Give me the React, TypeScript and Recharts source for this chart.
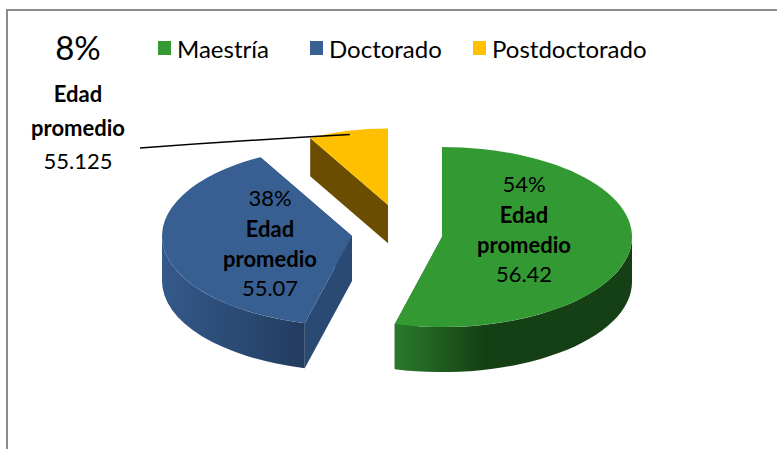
import React from "react";
import { PieChart, Pie, Cell, Legend, Tooltip } from "recharts";

const categories = ["Maestría", "Doctorado", "Postdoctorado"];
const percentages = [54, 38, 8];
const averageAges = ["56.42", "55.07", "55.125"];
const ageLabel = ["Edad", "promedio"];

const topColors = ["#339933", "#375f91", "#ffc000"];
const wallStops = [
  ["#2a7a2a", "#153f15"],
  ["#34598b", "#233c5f"],
  ["#6b4f00", "#5e4500"],
];
const faceColors = ["#1d5a1d", "#2b4a73", "#6a4d00"];
const sliceLayout = [
  { dx: 42, dy: 7, scale: 1, lx: 82, ly: -9, g: 0.38 },
  { dx: -48, dy: 6, scale: 1, lx: -82, ly: 6, g: 1 },
  { dx: -12, dy: -25, scale: 0.85, lx: -310, ly: -158, g: 1 },
];
const legendOffsets = [0, 152, 315];

const RX = 190;
const RY = 90;
const DEPTH = 45;
const FONT = "Lato, 'Noto Sans', sans-serif";

const data = categories.map((name, i) => ({ name, value: percentages[i], idx: i }));

const rad = (a: number) => (a * Math.PI) / 180;
const pt = (vx: number, vy: number, rx: number, ry: number, a: number): [number, number] => [
  vx + rx * Math.cos(rad(a)),
  vy - ry * Math.sin(rad(a)),
];
const f = (p: [number, number]) => `${p[0].toFixed(2)},${p[1].toFixed(2)}`;

function Slice3D(props: any) {
  const { cx, cy, startAngle, endAngle } = props;
  const i: number = props.idx ?? props.payload?.idx ?? 0;
  const L = sliceLayout[i];
  const rx = RX * L.scale;
  const ry = RY * L.scale;
  const d = DEPTH * L.scale;
  const vx = cx + L.dx;
  const vy = cy + L.dy;
  const hi = Math.max(startAngle, endAngle);
  const lo = Math.min(startAngle, endAngle);
  const P = (a: number) => pt(vx, vy, rx, ry, a);
  const ps = P(hi);
  const pe = P(lo);
  const large = hi - lo > 180 ? 1 : 0;
  const top = `M${vx},${vy} L${f(ps)} A${rx},${ry} 0 ${large} 1 ${f(pe)} Z`;
  const faces = [hi, lo].map((a) => {
    const p = P(a);
    return `M${vx},${vy} L${f(p)} L${f([p[0], p[1] + d])} L${vx},${vy + d} Z`;
  });
  const walls: { path: string; x1: number; x2: number }[] = [];
  for (const k of [-360, 0, 360]) {
    const a1 = Math.min(hi, k);
    const a2 = Math.max(lo, k - 180);
    if (a1 > a2) {
      const p1 = P(a1);
      const p2 = P(a2);
      walls.push({
        path: `M${f(p1)} A${rx},${ry} 0 0 1 ${f(p2)} L${f([p2[0], p2[1] + d])} A${rx},${ry} 0 0 0 ${f([p1[0], p1[1] + d])} Z`,
        x1: Math.min(p1[0], p2[0]),
        x2: Math.max(p1[0], p2[0]),
      });
    }
  }
  const gid = `wallgrad-${i}`;
  return (
    <g>
      {faces.map((p, j) => (
        <path key={`f${j}`} d={p} fill={faceColors[i]} />
      ))}
      {walls.map((w, j) => (
        <g key={`w${j}`}>
          <defs>
            <linearGradient id={`${gid}-${j}`} gradientUnits="userSpaceOnUse" x1={w.x1} y1={0} x2={w.x2} y2={0}>
              <stop offset="0" stopColor={wallStops[i][0]} />
              <stop offset={L.g} stopColor={wallStops[i][1]} />
              <stop offset="1" stopColor={wallStops[i][1]} />
            </linearGradient>
          </defs>
          <path d={w.path} fill={`url(#${gid}-${j})`} />
        </g>
      ))}
      <path d={top} fill={topColors[i]} />
    </g>
  );
}

function renderLabel(props: any) {
  const { cx, cy, index, midAngle } = props;
  const L = sliceLayout[index];
  const vx = cx + L.dx;
  const vy = cy + L.dy;
  const x = vx + L.lx;
  const y = vy + L.ly;
  const common = {
    textAnchor: "middle" as const,
    dominantBaseline: "central" as const,
    fill: "#000",
    fontFamily: FONT,
    fontSize: 22,
  };
  const pct = `${percentages[index]}%`;
  if (index === 2) {
    const end = pt(vx, vy, RX * L.scale * 0.95, RY * L.scale * 0.95, midAngle);
    const sx = x + 62;
    const sy = y + 101;
    return (
      <g>
        <path
          d={`M${sx},${sy} Q${(sx + end[0]) / 2},${(sy + end[1]) / 2 - 1} ${end[0]},${end[1]}`}
          stroke="#000"
          strokeWidth={1.5}
          fill="none"
        />
        <text {...common} x={x} y={y} fontSize={33}>{pct}</text>
        <text {...common} x={x} y={y + 46} fontWeight="bold">{ageLabel[0]}</text>
        <text {...common} x={x} y={y + 80} fontWeight="bold">{ageLabel[1]}</text>
        <text {...common} x={x} y={y + 113}>{averageAges[index]}</text>
      </g>
    );
  }
  return (
    <g>
      <text {...common} x={x} y={y - 45}>{pct}</text>
      <text {...common} x={x} y={y - 14} fontWeight="bold">{ageLabel[0]}</text>
      <text {...common} x={x} y={y + 16} fontWeight="bold">{ageLabel[1]}</text>
      <text {...common} x={x} y={y + 45}>{averageAges[index]}</text>
    </g>
  );
}

function renderLegend(props: any) {
  const payload: any[] = props.payload || [];
  const items = categories.map((c, i) => {
    const found = payload.find((p) => p.value === c);
    return { value: c, color: found?.color || topColors[i] };
  });
  return (
    <div style={{ position: "relative", width: 560, height: 28, fontFamily: FONT, fontSize: 24 }}>
      {items.map((it, i) => (
        <div
          key={`leg-${i}`}
          style={{
            position: "absolute",
            left: legendOffsets[i],
            top: 0,
            height: 28,
            display: "flex",
            alignItems: "center",
            whiteSpace: "nowrap",
          }}
        >
          <span style={{ display: "inline-block", width: 13, height: 14, background: it.color, marginRight: 6 }} />
          <span style={{ color: "#000" }}>{it.value}</span>
        </div>
      ))}
    </div>
  );
}

export default function App() {
  return (
    <div
      style={{
        position: "absolute",
        left: 0,
        top: 0,
        width: 777,
        height: 449,
        overflow: "hidden",
        background: "#fff",
      }}
    >
      <div
        style={{
          position: "absolute",
          left: 6,
          top: 9,
          width: 800,
          height: 480,
          borderTop: "2px solid #8c8c8c",
          borderLeft: "2px solid #8c8c8c",
        }}
      />
      <div style={{ position: "absolute", left: 0, top: 0 }}>
        <PieChart width={777} height={449} margin={{ top: 0, right: 0, bottom: 0, left: 0 }}>
          <Pie
            data={data}
            dataKey="value"
            nameKey="name"
            cx={400}
            cy={230}
            outerRadius={RX}
            startAngle={90}
            endAngle={-270}
            isAnimationActive={false}
            shape={Slice3D}
            activeShape={Slice3D}
            inactiveShape={Slice3D}
            label={renderLabel}
            labelLine={false}
            stroke="none"
          >
            {data.map((d, i) => (
              <Cell key={`c-${i}`} fill={topColors[i]} />
            ))}
          </Pie>
          <Tooltip defaultIndex={0} content={() => null} cursor={false} />
          <Legend
            verticalAlign="bottom"
            align="left"
            content={renderLegend}
            wrapperStyle={{ top: 34, left: 158, width: 560, height: 28, bottom: "auto" }}
          />
        </PieChart>
      </div>
    </div>
  );
}
